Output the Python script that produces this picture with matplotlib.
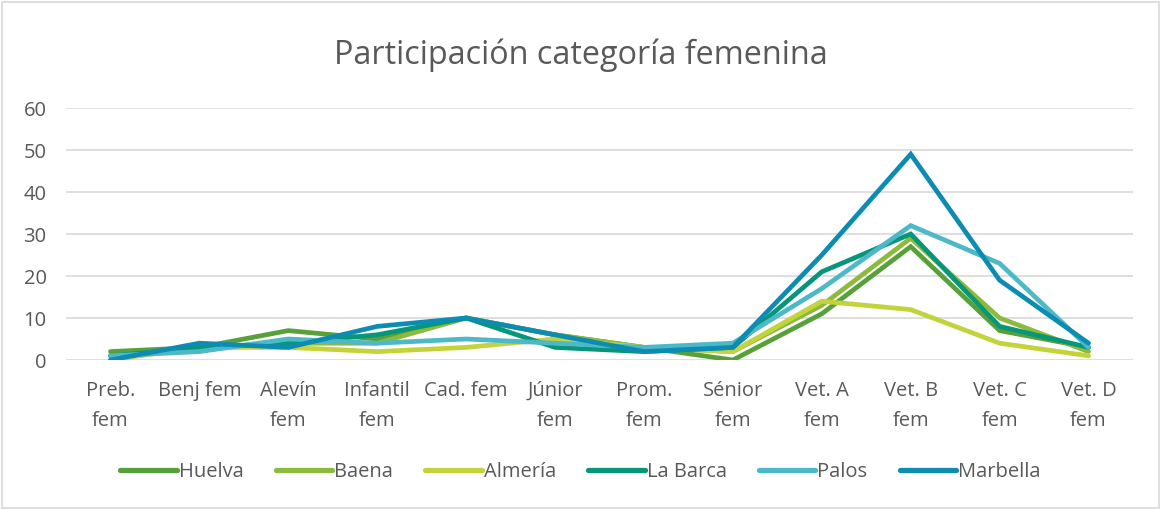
import matplotlib
matplotlib.use("Agg")
import matplotlib.pyplot as plt
from matplotlib.patches import Rectangle

categories = ["Preb.\nfem", "Benj fem", "Alevín\nfem", "Infantil\nfem", "Cad. fem", "Júnior\nfem",
              "Prom.\nfem", "Sénior\nfem", "Vet. A\nfem", "Vet. B\nfem", "Vet. C\nfem", "Vet. D\nfem"]
huelva   = [2, 3, 7, 5, 10, 6, 3, 0, 11, 27, 7, 3]
baena    = [1, 3, 4, 4, 10, 6, 3, 2, 13, 29, 10, 2]
almeria  = [0, 3, 3, 2, 3, 5, 3, 2, 14, 12, 4, 1]
labarca  = [1, 3, 4, 6, 10, 3, 2, 3, 21, 30, 8, 3]
palos    = [1, 2, 5, 4, 5, 4, 3, 4, 17, 32, 23, 3]
marbella = [0, 4, 3, 8, 10, 6, 2, 3, 25, 49, 19, 4]
series_names = ["Huelva", "Baena", "Almería", "La Barca", "Palos", "Marbella"]
colors = ["#57a03a", "#8cbb3c", "#c3d33b", "#07967a", "#4db8c8", "#0d8cb3"]

plt.rcParams['font.family'] = ['Open Sans', 'DejaVu Sans']

fig = plt.figure(figsize=(11.61, 5.09), dpi=100)
fig.patches.append(Rectangle((0.002, 0.002), 0.996, 0.994, transform=fig.transFigure,
                             fill=False, edgecolor="#d9d9d9", linewidth=1.2))
ax = fig.add_axes([66/1161, 1-360/509, (1133-66)/1161, (360-108)/509])

x = list(range(len(categories)))
for name, vals, c in zip(series_names, [huelva, baena, almeria, labarca, palos, marbella], colors):
    ax.plot(x, vals, color=c, linewidth=3.4, label=name, solid_capstyle="round", solid_joinstyle="miter")

ax.set_xlim(-0.5, len(categories) - 0.5)
ax.set_ylim(0, 60)
ax.set_yticks(range(0, 61, 10))
ax.set_xticks(x)
ax.set_xticklabels(categories, fontsize=14.5, color="#595959", linespacing=1.68, va="top")
ax.tick_params(axis="y", labelsize=14.5, labelcolor="#595959", length=0, pad=14)
ax.tick_params(axis="x", length=0, pad=15)
ax.grid(axis="y", color="#d9d9d9", linewidth=1.2)
ax.set_axisbelow(True)
for s in ax.spines.values():
    s.set_visible(False)

fig.text(0.5, 1-55/509, "Participación categoría femenina", ha="center", va="center",
         fontsize=23.3, color="#595959")

leg = fig.legend(loc="center", bbox_to_anchor=(0.5, 1-472/509), ncol=6, frameon=False,
                 fontsize=14.5, labelcolor="#595959", handlelength=2.8, handletextpad=0.1,
                 columnspacing=1.6)
for h in leg.get_lines():
    h.set_linewidth(3.8)
    h.set_solid_capstyle("round")

fig.savefig("out.png", dpi=100)
